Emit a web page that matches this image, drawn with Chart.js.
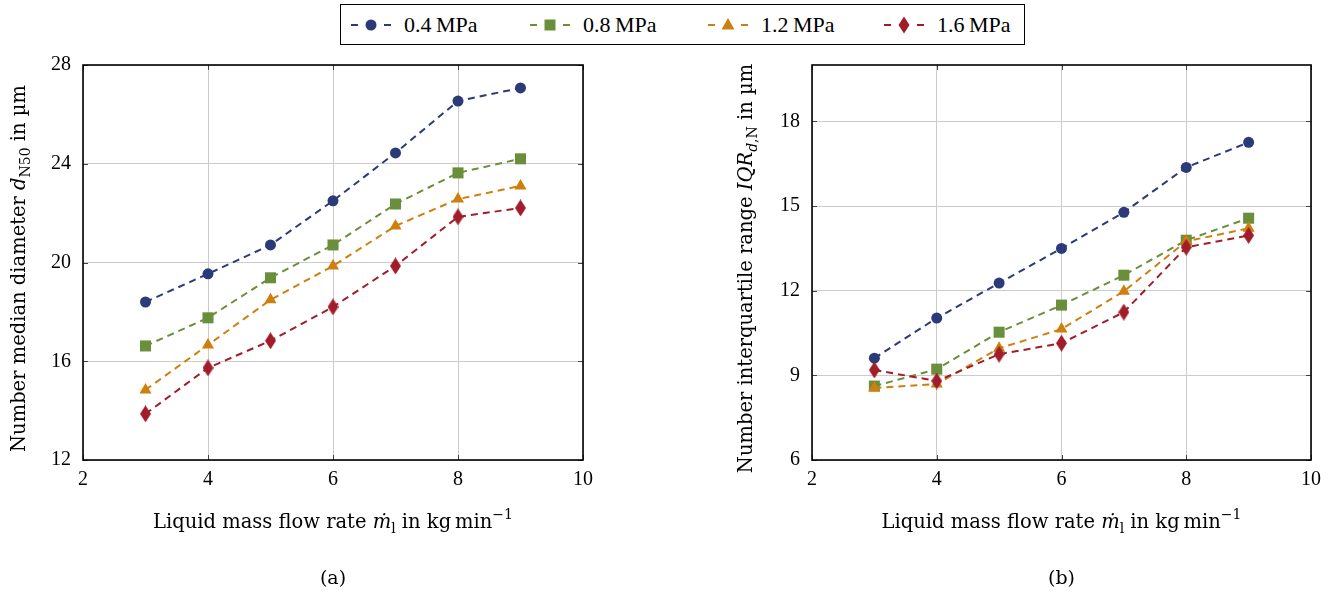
<!DOCTYPE html>
<html>
<head>
<meta charset="utf-8">
<script src="https://cdn.jsdelivr.net/npm/chart.js@4/dist/chart.umd.min.js"></script>
<style>
  body { margin: 0; width: 1339px; height: 594px; background: #fff; position: relative; overflow: hidden; font-family: "Liberation Serif", serif; }
  .panel { position: absolute; top: 0; height: 594px; }
  #legend { position: absolute; left: 340px; top: 4px; width: 685px; height: 41px; border: 1px solid #000; box-sizing: border-box; }
  .item { position: absolute; top: 0; height: 39px; display: flex; align-items: center; }
  .item span { font-size: 22px; margin-left: 13px; white-space: nowrap; }
</style>
</head>
<body>
<div id="legend"></div>
<div class="panel" style="left:0;width:660px"><canvas id="chartA"></canvas></div>
<div class="panel" style="left:670px;width:669px"><canvas id="chartB"></canvas></div>
<script>
// liquid mass flow rate, kg/min
var flowRates = [3, 4, 5, 6, 7, 8, 9];
var pressures = ['0.4\u2009MPa', '0.8\u2009MPa', '1.2\u2009MPa', '1.6\u2009MPa'];
var colors = ['#2b3a78', '#6a8f3a', '#cf7f0e', '#a11d2a'];
var markers = ['circle', 'rect', 'triangle', 'diamond'];

// (a) number median diameter d_N50 in µm
var d50_04 = [18.40, 19.54, 20.71, 22.50, 24.44, 26.54, 27.07];
var d50_08 = [16.62, 17.76, 19.38, 20.71, 22.37, 23.63, 24.20];
var d50_12 = [14.84, 16.66, 18.49, 19.86, 21.48, 22.57, 23.10];
var d50_16 = [13.87, 15.73, 16.83, 18.20, 19.86, 21.85, 22.21];

// (b) number interquartile range IQR in µm
var iqr_04 = [9.61, 11.03, 12.27, 13.50, 14.78, 16.37, 17.26];
var iqr_08 = [8.62, 9.22, 10.53, 11.49, 12.55, 13.79, 14.57];
var iqr_12 = [8.55, 8.69, 9.96, 10.64, 11.98, 13.75, 14.21];
var iqr_16 = [9.19, 8.80, 9.75, 10.14, 11.24, 13.54, 13.96];

var xTicks = [2, 4, 6, 8, 10];
var yTicksA = [12, 16, 20, 24, 28];
var yTicksB = [6, 9, 12, 15, 18];

var FONT = '"Liberation Serif", serif';
var TITLE_FONT = '"DejaVu Serif", serif';

// narrow diamond marker as an image
function diamondImage(color) {
    var c = document.createElement('canvas');
    c.width = 11; c.height = 17;
    var g = c.getContext('2d');
    g.fillStyle = color;
    g.beginPath();
    g.moveTo(5.5, 0); g.lineTo(11, 8.5); g.lineTo(5.5, 17); g.lineTo(0, 8.5);
    g.closePath(); g.fill();
    return c;
}

function drawMarker(g, kind, x, y, color) {
    g.fillStyle = color;
    g.beginPath();
    if (kind === 'circle') {
        g.arc(x, y, 5.5, 0, Math.PI * 2);
    } else if (kind === 'rect') {
        g.rect(x - 5.5, y - 5.5, 11, 11);
    } else if (kind === 'triangle') {
        g.moveTo(x, y - 7); g.lineTo(x + 6.5, y + 4.5); g.lineTo(x - 6.5, y + 4.5); g.closePath();
    } else {
        g.moveTo(x, y - 8.5); g.lineTo(x + 5.5, y); g.lineTo(x, y + 8.5); g.lineTo(x - 5.5, y); g.closePath();
    }
    g.fill();
}

// legend
var legendPos = [10, 189, 367, 543];
var legend = document.getElementById('legend');
pressures.forEach(function (name, i) {
    var item = document.createElement('div');
    item.className = 'item';
    item.style.left = legendPos[i] + 'px';
    var c = document.createElement('canvas');
    c.width = 40; c.height = 20;
    var g = c.getContext('2d');
    g.strokeStyle = colors[i];
    g.lineWidth = 2;
    g.beginPath();
    g.moveTo(0, 10); g.lineTo(7, 10);
    g.moveTo(33, 10); g.lineTo(40, 10);
    g.stroke();
    drawMarker(g, markers[i], 20, 10, colors[i]);
    item.appendChild(c);
    var s = document.createElement('span');
    s.textContent = name;
    item.appendChild(s);
    legend.appendChild(item);
});

// text with italic / sub / superscript pieces
function drawRich(ctx, segs, x, y, rot, size) {
    ctx.save();
    ctx.translate(x, y);
    ctx.rotate(rot);
    ctx.fillStyle = '#000';
    ctx.textBaseline = 'alphabetic';
    var fontOf = function (s) {
        var sz = (s.sub || s.sup) ? Math.round(size * 0.7) : size;
        return (s.i ? 'italic ' : '') + sz + 'px ' + TITLE_FONT;
    };
    var total = 0;
    segs.forEach(function (s) { ctx.font = fontOf(s); total += ctx.measureText(s.t).width; });
    var cx = -total / 2;
    segs.forEach(function (s) {
        ctx.font = fontOf(s);
        var dy = size * 0.35;
        if (s.sub) dy += size * 0.25;
        if (s.sup) dy -= size * 0.45;
        ctx.fillText(s.t, cx, dy);
        cx += ctx.measureText(s.t).width;
    });
    ctx.restore();
}

var frameAndTitles = {
    id: 'frameAndTitles',
    afterDraw: function (chart, args, o) {
        var ctx = chart.ctx, a = chart.chartArea;
        var xs = chart.scales.x, ys = chart.scales.y;
        ctx.save();
        ctx.strokeStyle = '#444';
        ctx.lineWidth = 1;
        ys.ticks.forEach(function (t) {
            var py = Math.round(ys.getPixelForValue(t.value)) + 0.5;
            ctx.beginPath();
            ctx.moveTo(a.left, py); ctx.lineTo(a.left + 5, py);
            ctx.moveTo(a.right, py); ctx.lineTo(a.right - 5, py);
            ctx.stroke();
        });
        xs.ticks.forEach(function (t) {
            var px = Math.round(xs.getPixelForValue(t.value)) + 0.5;
            ctx.beginPath();
            ctx.moveTo(px, a.bottom); ctx.lineTo(px, a.bottom - 5);
            ctx.moveTo(px, a.top); ctx.lineTo(px, a.top + 5);
            ctx.stroke();
        });
        ctx.strokeStyle = '#000';
        ctx.lineWidth = 1.6;
        ctx.strokeRect(a.left, a.top, a.right - a.left, a.bottom - a.top);
        ctx.restore();
        var midX = (a.left + a.right) / 2;
        drawRich(ctx, o.yTitle, o.yTitleX, (a.top + a.bottom) / 2 + 6, -Math.PI / 2, 19.5);
        drawRich(ctx, o.xTitle, midX, 521, 0, 19.5);
        drawRich(ctx, [{ t: o.caption }], midX, 577, 0, 19);
    }
};

var xTitle = [
    { t: 'Liquid mass flow rate ' }, { t: '\u1E41', i: true }, { t: 'l', sub: true },
    { t: ' in kg\u2009min' }, { t: '\u22121', sup: true }
];

function makeChart(id, series, yMin, yMax, yTicks, geom, titles) {
    var datasets = series.map(function (vals, i) {
        return {
            label: pressures[i],
            data: flowRates.map(function (x, k) { return { x: x, y: vals[k] }; }),
            borderColor: colors[i],
            backgroundColor: colors[i],
            borderWidth: 2,
            borderDash: [7, 5],
            pointStyle: markers[i] === 'diamond' ? diamondImage(colors[i]) : markers[i],
            pointRadius: markers[i] === 'rect' ? 7.8 : (markers[i] === 'triangle' ? 7 : 5.5),
            pointBorderWidth: 0,
            pointBackgroundColor: colors[i],
            tension: 0,
            fill: false,
            order: series.length - i
        };
    });
    return new Chart(document.getElementById(id), {
        type: 'line',
        data: { datasets: datasets },
        options: {
            responsive: true,
            maintainAspectRatio: false,
            animation: false,
            layout: { padding: { left: 0, top: 65, right: geom.right, bottom: 0 } },
            plugins: {
                legend: { display: false },
                tooltip: { enabled: false },
                frameAndTitles: titles
            },
            scales: {
                x: {
                    type: 'linear', min: 2, max: 10,
                    afterBuildTicks: function (s) { s.ticks = xTicks.map(function (v) { return { value: v }; }); },
                    afterFit: function (s) { s.height = 134; },
                    grid: { color: '#cccccc', lineWidth: 1, drawTicks: false },
                    border: { display: false },
                    ticks: { color: '#000', padding: 8, maxRotation: 0, font: { family: FONT, size: 20 } }
                },
                y: {
                    type: 'linear', min: yMin, max: yMax,
                    afterBuildTicks: function (s) { s.ticks = yTicks.map(function (v) { return { value: v }; }); },
                    afterFit: function (s) { s.width = geom.yWidth; },
                    grid: { color: '#cccccc', lineWidth: 1, drawTicks: false },
                    border: { display: false },
                    ticks: { color: '#000', padding: 12, font: { family: FONT, size: 20 } }
                }
            }
        },
        plugins: [frameAndTitles]
    });
}

makeChart('chartA', [d50_04, d50_08, d50_12, d50_16], 12, 28, yTicksA,
    { yWidth: 83, right: 77 },
    {
        yTitle: [{ t: 'Number median diameter ' }, { t: 'd', i: true }, { t: 'N50', sub: true }, { t: ' in \u00B5m' }],
        yTitleX: 18, xTitle: xTitle, caption: '(a)'
    });

makeChart('chartB', [iqr_04, iqr_08, iqr_12, iqr_16], 6, 20, yTicksB,
    { yWidth: 142, right: 28 },
    {
        yTitle: [{ t: 'Number interquartile range ' }, { t: 'IQR', i: true }, { t: 'd', i: true, sub: true }, { t: ',N', sub: true }, { t: ' in \u00B5m' }],
        yTitleX: 75, xTitle: xTitle, caption: '(b)'
    });
</script>
</body>
</html>
